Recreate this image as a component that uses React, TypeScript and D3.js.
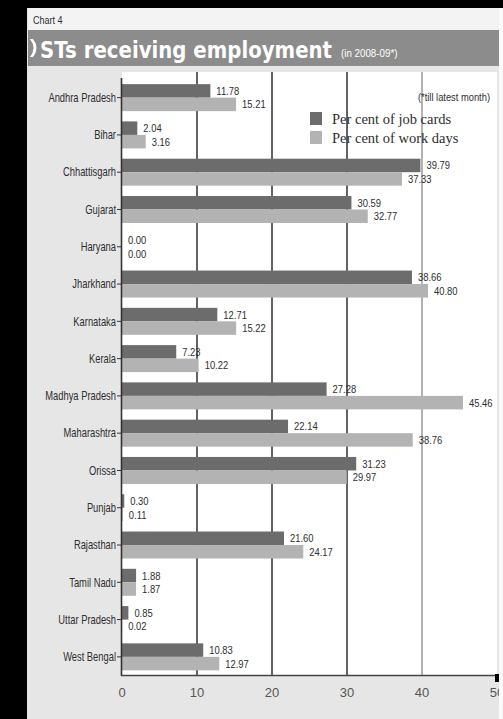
import * as d3 from "d3";
import { useRef, useLayoutEffect, useState } from "react";

const states = ["Andhra Pradesh", "Bihar", "Chhattisgarh", "Gujarat", "Haryana", "Jharkhand", "Karnataka", "Kerala", "Madhya Pradesh", "Maharashtra", "Orissa", "Punjab", "Rajasthan", "Tamil Nadu", "Uttar Pradesh", "West Bengal"];
const jobCards = [11.78, 2.04, 39.79, 30.59, 0.0, 38.66, 12.71, 7.23, 27.28, 22.14, 31.23, 0.3, 21.6, 1.88, 0.85, 10.83];
const workDays = [15.21, 3.16, 37.33, 32.77, 0.0, 40.8, 15.22, 10.22, 45.46, 38.76, 29.97, 0.11, 24.17, 1.87, 0.02, 12.97];
const xTicks = [0, 10, 20, 30, 40, 50];
const seriesNames = ["Per cent of job cards", "Per cent of work days"];
const seriesColors = ["#6c6c6c", "#b3b3b3"];

const width = 503;
const height = 719;
const sans = "'Liberation Sans', Arial, sans-serif";

// the print font is condensed, so squeeze regular text horizontally
function Narrow({ x, y, anchor = "start", size = 11, k = 0.82, children }: {
  x: number, y: number, anchor?: string, size?: number, k?: number, children: any
}) {
  return (
    <g transform={`translate(${x},${y}) scale(${k},1)`}>
      <text x={0} y={0} dy="0.35em" textAnchor={anchor} fontSize={size} fontFamily={sans} fill="#2e2e2e">
        {children}
      </text>
    </g>
  );
}

export default function App() {
  const x = d3.scaleLinear([0, 50], [122, 497]);
  const y = d3.scaleBand(states, [79, 675.5]).paddingInner(0.276).paddingOuter(0.138);
  const bw = y.bandwidth();
  const half = bw / 2;

  // squeeze the title to the printed width
  const titleRef = useRef<SVGTextElement | null>(null);
  const [titleK, setTitleK] = useState(0.78);
  useLayoutEffect(() => {
    if (titleRef.current) {
      const len = titleRef.current.getComputedTextLength();
      if (len > 0) setTitleK(292 / len);
    }
  }, []);

  return (
    <svg width={width} height={height} style={{ position: "absolute", left: 0, top: 0 }}>
      {/* frame */}
      <rect x={0} y={0} width={width} height={height} fill="#e6e6e6" />
      <rect x={28} y={8} width={472} height={22} fill="#f3f3f3" />
      <rect x={0} y={0} width={27} height={height} fill="#000" />
      <rect x={0} y={0} width={width} height={8} fill="#000" />
      <Narrow x={33} y={20} size={11}>Chart 4</Narrow>

      {/* banner */}
      <rect x={28} y={30} width={472} height={36} fill="#8c8c8c" />
      <path d="M30,39 Q37,48 30,57 L33,57 Q40,48 33,39 Z" fill="#fff" />
      <g transform={`translate(40,58) scale(${titleK},1)`}>
        <text ref={titleRef} x={0} y={0} fontSize={23} fontWeight="bold" fill="#fff"
          fontFamily="'DejaVu Sans', sans-serif">
          STs receiving employment
        </text>
      </g>
      <g transform="translate(341,57) scale(0.85,1)">
        <text x={0} y={0} fontSize={11.5} fill="#fff" fontFamily={sans}>(in 2008-09*)</text>
      </g>

      {/* plot area */}
      <rect x={x(0)} y={72} width={x(50) - x(0)} height={675.5 - 72} fill="#fff" />
      {xTicks.slice(1, 5).map((t) => (
        <line key={t} x1={x(t)} x2={x(t)} y1={72} y2={675.5}
          stroke={t === 40 ? "#8a8a8a" : "#3c3c3c"} strokeWidth={t === 40 ? 1.3 : 1.6} />
      ))}

      {/* bars */}
      {states.map((s, i) => (
        <g key={s}>
          <rect x={x(0)} y={y(s)!} width={x(jobCards[i]) - x(0)} height={half} fill={seriesColors[0]} />
          <rect x={x(0)} y={y(s)! + half} width={x(workDays[i]) - x(0)} height={half} fill={seriesColors[1]} />
          <Narrow x={x(jobCards[i]) + 6} y={y(s)! + half / 2} size={11.5}>{jobCards[i].toFixed(2)}</Narrow>
          <Narrow x={x(workDays[i]) + 6} y={y(s)! + half * 1.5} size={11.5}>{workDays[i].toFixed(2)}</Narrow>
          <Narrow x={116} y={y(s)! + half} anchor="end" size={12} k={0.78}>{s}</Narrow>
          <line x1={117} x2={121} y1={y(s)! + half} y2={y(s)! + half} stroke="#333" strokeWidth={1} />
        </g>
      ))}

      {/* axes */}
      <line x1={121.5} x2={121.5} y1={78} y2={676} stroke="#333" strokeWidth={1.6} />
      <line x1={121} x2={498} y1={675.5} y2={675.5} stroke="#444" strokeWidth={1.6} />
      <rect x={495} y={674} width={4} height={8} fill="#000" />
      {xTicks.map((t) => (
        <text key={t} x={x(t)} y={697} textAnchor="middle" fontSize={13}
          fontFamily={sans} fill="#555">{t}</text>
      ))}

      {/* legend */}
      <Narrow x={490} y={97} anchor="end" size={11} k={0.85}>(*till latest month)</Narrow>
      {seriesNames.map((n, i) => (
        <g key={n}>
          <rect x={310} y={112 + i * 19} width={12} height={13} fill={seriesColors[i]} />
          <text x={332} y={118.5 + i * 19} dy="0.35em" fontSize={14.5}
            fontFamily="'Liberation Serif', 'Times New Roman', serif" fill="#2e2e2e">{n}</text>
        </g>
      ))}

      {/* right edge */}
      <rect x={499} y={8} width={4} height={height} fill="#fafafa" />
    </svg>
  );
}
